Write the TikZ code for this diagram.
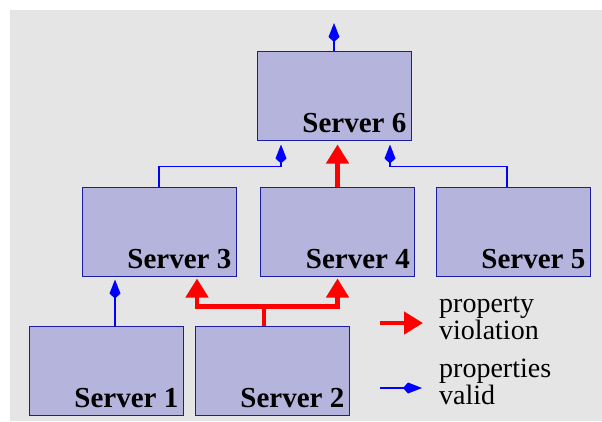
\documentclass[tikz,border=0pt]{standalone}
\usepackage{fontspec}
\setmainfont{Liberation Serif}
\usepackage{tikz}
\usetikzlibrary{arrows.meta}

\definecolor{fondo}{HTML}{E5E5E5}
\definecolor{caja}{HTML}{B4B4DC}
\definecolor{borde}{HTML}{1C1CA0}

\begin{document}
\begin{tikzpicture}[
    x=1pt, y=-1pt,
    server/.style={rectangle, draw=borde, line width=1pt, fill=caja, minimum width=154pt, minimum height=89pt, inner sep=0pt},
    srvlabel/.style={anchor=base east, xshift=-5pt, yshift=8pt, inner sep=0pt, font=\fontsize{29}{30}\selectfont\bfseries},
    valid/.style={-{Kite[length=19pt,width=11pt,inset=5pt]}, draw=blue, line width=1.2pt},
    viol/.style={-{Triangle[length=19pt,width=22pt]}, draw=red, line width=4.5pt},
    legtext/.style={anchor=base west, align=left, inner sep=0pt, font=\fontsize{28}{22.5}\selectfont}
]

\useasboundingbox (0,0) rectangle (602,421);
\fill[fondo] (10,10) rectangle (602,421);

% Servidores
\node[server, label={[srvlabel]south east:Server 6}] (s6) at (334,95.5) {};
\node[server, label={[srvlabel]south east:Server 3}] (s3) at (159,231.5) {};
\node[server, label={[srvlabel]south east:Server 4}] (s4) at (337.5,231.5) {};
\node[server, label={[srvlabel]south east:Server 5}] (s5) at (513,231.5) {};
\node[server, label={[srvlabel]south east:Server 1}] (s1) at (106,370.5) {};
\node[server, label={[srvlabel]south east:Server 2}] (s2) at (272,370.5) {};

% Conexiones
\coordinate (top) at (334,23);
\coordinate (b1) at ([xshift=9pt]s1.north);
\draw[valid] (s6.north) -- (top);
\draw[valid, shorten >=4pt] (s3.north) -- ++(0,-20) -| ([xshift=-53pt]s6.south);
\draw[valid, shorten >=4pt] ([xshift=-6pt]s5.north) -- ++(0,-20) -| ([xshift=56pt]s6.south);
\draw[viol, shorten >=4pt] (s4.north) -- (s4.north |- s6.south);
\draw[valid, shorten >=3pt] (b1) -- (b1 |- s3.south);
\draw[red, line width=4.5pt] ([xshift=-8pt]s2.north) -- ++(0,-19) coordinate (fork);
\draw[viol, shorten >=2pt] (fork) -| ([xshift=38pt]s3.south);
\draw[viol, shorten >=2pt] (fork) -| (s4.south);

% Leyenda
\coordinate (lv1) at (380,323);
\coordinate (lv2) at (423,323);
\coordinate (lp1) at (380,388);
\coordinate (lp2) at (422,388);
\draw[viol] (lv1) -- (lv2);
\draw[valid] (lp1) -- (lp2);
\node[legtext] (tv) at (439,339) {property\\violation};
\node[legtext] (tp) at (439,404) {properties\\valid};

\end{tikzpicture}
\end{document}
